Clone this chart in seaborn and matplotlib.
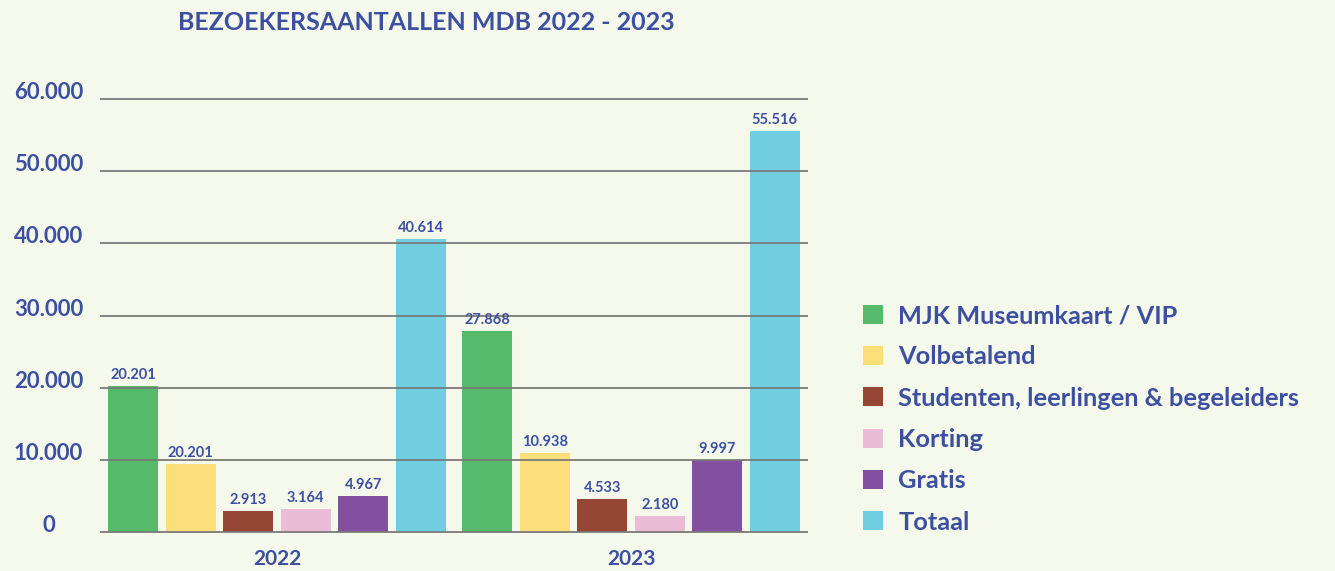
import matplotlib
matplotlib.use("Agg")
import matplotlib.pyplot as plt
from matplotlib import font_manager
import seaborn as sns
import pandas as pd

# ---- data ----
years = ["2022", "2023"]
categories = ["MJK Museumkaart / VIP", "Volbetalend", "Studenten, leerlingen & begeleiders",
              "Korting", "Gratis", "Totaal"]
values_2022 = [20201, 9369, 2913, 3164, 4967, 40614]
values_2023 = [27868, 10938, 4533, 2180, 9997, 55516]
# labels as printed in the reference chart
labels_2022 = ["20.201", "20.201", "2.913", "3.164", "4.967", "40.614"]
labels_2023 = ["27.868", "10.938", "4.533", "2.180", "9.997", "55.516"]
y_ticks = [0, 10000, 20000, 30000, 40000, 50000, 60000]
y_tick_labels = ["0", "10.000", "20.000", "30.000", "40.000", "50.000", "60.000"]
title = "BEZOEKERSAANTALLEN MDB 2022 - 2023"

colors = ["#55BB6B", "#FCDF7A", "#954634", "#EBBCD7", "#8350A0", "#70CEE0"]
bg = "#F5F9EB"
txt = "#3D4FA0"
gridc = "#7A7A78"

rows = []
for y, vals in zip(years, [values_2022, values_2023]):
    for c, v in zip(categories, vals):
        rows.append({"Jaar": y, "Categorie": c, "Aantal": v})
df = pd.DataFrame(rows)

sns.set_theme(style="white")
available = {f.name for f in font_manager.fontManager.ttflist}
main_font = "Lato" if "Lato" in available else "DejaVu Sans"
plt.rcParams["font.family"] = [main_font, "DejaVu Sans"]

fig = plt.figure(figsize=(13.35, 5.71), dpi=100, facecolor=bg)
ax = fig.add_axes([100 / 1335, 0.062, 708 / 1335, 0.8392 - 0.062])
ax.set_facecolor(bg)

sns.barplot(data=df, x="Jaar", y="Aantal", hue="Categorie", order=years,
            hue_order=categories, palette=colors, width=0.975, gap=0.13,
            saturation=1, linewidth=0, edgecolor="none", ax=ax, zorder=1)

ax.set_ylim(-500, 61000)
ax.set_xlim(-0.5, 1.5)
ax.set_yticks(y_ticks)
ax.set_yticklabels(y_tick_labels)
ax.yaxis.grid(True, color=gridc, linewidth=1.3, zorder=3)
ax.set_axisbelow(False)
for s in ax.spines.values():
    s.set_visible(False)
ax.set_xlabel("")
ax.set_ylabel("")

ax.tick_params(axis="y", length=0, pad=37, labelsize=16, labelcolor=txt)
for lab in ax.get_yticklabels():
    lab.set_horizontalalignment("center")
    lab.set_verticalalignment("baseline")
    lab.set_fontweight("bold")
ax.tick_params(axis="x", which="major", length=0, pad=10, labelsize=15, labelcolor=txt)
for lab in ax.get_xticklabels():
    lab.set_fontweight("bold")
ax.set_xticks([0.5], minor=True)
ax.tick_params(axis="x", which="minor", length=16, width=1.2, direction="inout", color=gridc)

for cont, l22, l23 in zip(ax.containers, labels_2022, labels_2023):
    ax.bar_label(cont, labels=[l22, l23], padding=3, fontsize=10.5, color=txt,
                 fontweight="bold")

sns.move_legend(ax, loc="upper left", bbox_to_anchor=(853 / 1335, 1 - 294 / 571),
                bbox_transform=fig.transFigure, frameon=False, title=None,
                fontsize=18.3, handlelength=0.78, handleheight=0.78, handletextpad=0.6,
                labelspacing=0.72, borderaxespad=0)
leg = ax.get_legend()
for t in leg.get_texts():
    t.set_color(txt)
    t.set_fontweight("bold")

fig.text(426 / 1335, 1 - 22 / 571, title, ha="center", va="center", fontsize=18,
         fontweight="bold", color=txt)

fig.savefig("out.png", dpi=100, facecolor=bg)
